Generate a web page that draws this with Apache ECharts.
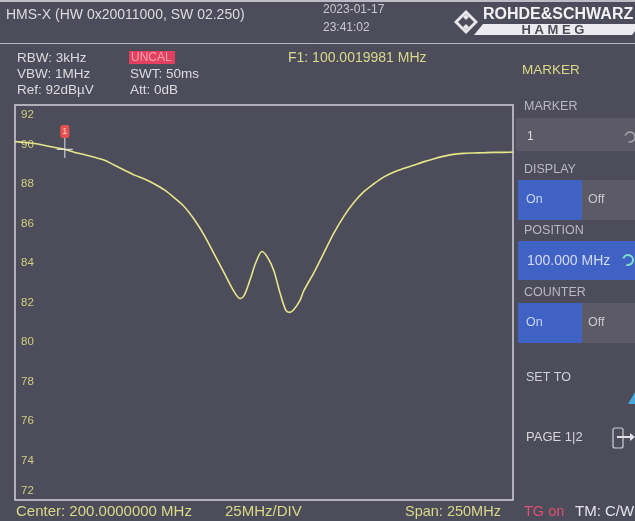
<!DOCTYPE html>
<html>
<head>
<meta charset="utf-8">
<script src="https://cdn.jsdelivr.net/npm/echarts@6/dist/echarts.min.js"></script>
<style>
  html, body { margin: 0; padding: 0; background: #4d4c5a; }
  #chart { width: 635px; height: 521px; }
</style>
</head>
<body>
<div id="chart"></div>
<script>
// Trace: transmission level (dBµV) against frequency (MHz), span 75..325 MHz
const freqMHz = [75, 80, 85, 90, 95, 100, 105, 110, 115, 120, 125, 130, 135, 140, 145,
  150, 155, 160, 165, 170, 175, 180, 185, 188, 190, 193, 196, 199, 202, 205, 208, 211,
  213, 215, 218, 220, 225, 230, 235, 240, 245, 250, 255, 260, 265, 270, 275, 280, 285,
  290, 295, 300, 305, 310, 315, 320, 325];
const levelDbuV = [90.15, 90.1, 90.05, 89.95, 89.85, 89.75, 89.6, 89.48, 89.35, 89.2,
  88.95, 88.7, 88.45, 88.25, 88.0, 87.7, 87.3, 86.85, 86.2, 85.4, 84.45, 83.5, 82.55,
  82.2, 82.35, 83.15, 84.05, 84.58, 84.25, 83.6, 82.5, 81.6, 81.5, 81.65, 82.1, 82.6,
  83.5, 84.5, 85.5, 86.35, 87.05, 87.6, 88.0, 88.35, 88.6, 88.78, 88.95, 89.12, 89.27,
  89.4, 89.5, 89.55, 89.57, 89.58, 89.6, 89.6, 89.62];

// Marker 1 position
const markerFreq = 100;
const markerLevel = 89.75;

// Axis scale
const freqMin = 75, freqMax = 325, freqStep = 25;
const levelMin = 72, levelMax = 92, levelStep = 2;

// Readout texts
const headerTitle = 'HMS-X (HW 0x20011000, SW 02.250)';
const dateText = '2023-01-17';
const timeText = '23:41:02';
const settingsLeft = ['RBW: 3kHz', 'VBW: 1MHz', 'Ref: 92dBµV'];
const settingsMid = ['SWT: 50ms', 'Att: 0dB'];
const uncalText = 'UNCAL';
const markerReadout = 'F1: 100.0019981 MHz';
const footer = { center: 'Center: 200.0000000 MHz', div: '25MHz/DIV', span: 'Span: 250MHz', tg: 'TG on', tm: 'TM: C/W' };

const traceData = freqMHz.map((f, i) => [f, levelDbuV[i]]);

const FONT = '"Liberation Sans", Arial, sans-serif';
const BG = '#4d4c5a';
const txtGrey = '#dcdce0';
const txtYellow = '#d9d98a';
const btnBlue = '#4062c4';
const btnGrey = '#5b5a66';

function text(x, y, s, color, size, weight) {
  return {
    type: 'text', x: x, y: y,
    style: { text: s, fill: color, font: (weight ? weight + ' ' : '') + size + 'px ' + FONT, textVerticalAlign: 'middle' }
  };
}

const graphics = [
  // thin light strip along the top edge
  { type: 'rect', shape: { x: 0, y: 0, width: 635, height: 2 }, style: { fill: '#bdbcc4' } },
  // header separator
  { type: 'line', shape: { x1: 0, y1: 43.5, x2: 635, y2: 43.5 }, style: { stroke: '#b9b8c2', lineWidth: 1 } },
  text(6, 15, headerTitle, txtGrey, 14),
  text(323, 10, dateText, '#c9c8cf', 12),
  text(323, 28, timeText, '#c9c8cf', 12),
  // R&S diamond emblem
  { type: 'polygon', shape: { points: [[466, 10], [478, 22], [466, 34], [454, 22]] }, style: { fill: '#e8e8ec' } },
  { type: 'polygon', shape: { points: [[466, 14], [474, 22], [466, 30], [458, 22]] }, style: { fill: BG } },
  { type: 'polygon', shape: { points: [[463, 17], [466, 14], [469, 17], [466, 20]] }, style: { fill: '#e8e8ec' } },
  { type: 'polygon', shape: { points: [[463, 27], [466, 24], [469, 27], [466, 30]] }, style: { fill: '#e8e8ec' } },
  text(483, 15, 'ROHDE&SCHWARZ', '#f2f2f4', 16, 'bold'),
  { type: 'polygon', shape: { points: [[483, 24], [640, 24], [632, 35], [474, 35]] }, style: { fill: '#ececf0' } },
  { type: 'text', x: 553, y: 30, style: { text: 'H A M E G', fill: BG, font: 'bold 13px ' + FONT, textAlign: 'center', textVerticalAlign: 'middle' } },
  // settings block
  text(17, 58, settingsLeft[0], txtGrey, 13.5),
  text(17, 74, settingsLeft[1], txtGrey, 13.5),
  text(17, 90, settingsLeft[2], txtGrey, 13.5),
  { type: 'rect', shape: { x: 129, y: 51, width: 46, height: 13 }, style: { fill: '#e2405e' } },
  text(131, 57.5, uncalText, '#f7a0b0', 12),
  text(130, 74, settingsMid[0], txtGrey, 13.5),
  text(130, 90, settingsMid[1], txtGrey, 13.5),
  text(288, 58, markerReadout, txtYellow, 14),
  text(522, 70, 'MARKER', txtYellow, 13.5),
  // side menu
  text(524, 107, 'MARKER', '#b9b8c2', 12.5),
  { type: 'rect', shape: { x: 516, y: 118, width: 119, height: 33 }, style: { fill: btnGrey } },
  text(527, 137, '1', '#dcdce0', 12),
  { type: 'arc', shape: { cx: 630, cy: 137, r: 5, startAngle: -Math.PI * 0.9, endAngle: Math.PI * 0.6 }, style: { stroke: '#a8a8b0', lineWidth: 1.5, fill: null } },
  text(524, 170, 'DISPLAY', '#b9b8c2', 12.5),
  { type: 'rect', shape: { x: 518, y: 180, width: 64, height: 40 }, style: { fill: btnBlue } },
  { type: 'rect', shape: { x: 582, y: 180, width: 53, height: 40 }, style: { fill: btnGrey } },
  text(526, 200, 'On', '#c8d4f4', 12.5),
  text(588, 200, 'Off', '#c9c8cf', 12.5),
  text(524, 231, 'POSITION', '#b9b8c2', 12.5),
  { type: 'rect', shape: { x: 518, y: 241, width: 117, height: 39 }, style: { fill: btnBlue } },
  text(527, 261, '100.000 MHz', '#d4dcf6', 14),
  { type: 'arc', shape: { cx: 628, cy: 260, r: 5, startAngle: -Math.PI * 0.9, endAngle: Math.PI * 0.6 }, style: { stroke: '#7fe0c8', lineWidth: 2, fill: null } },
  text(524, 293, 'COUNTER', '#b9b8c2', 12.5),
  { type: 'rect', shape: { x: 518, y: 303, width: 64, height: 40 }, style: { fill: btnBlue } },
  { type: 'rect', shape: { x: 582, y: 303, width: 53, height: 40 }, style: { fill: btnGrey } },
  text(526, 323, 'On', '#c8d4f4', 12.5),
  text(588, 323, 'Off', '#c9c8cf', 12.5),
  text(526, 378, 'SET TO', '#d0d0d6', 12.5),
  { type: 'polygon', shape: { points: [[635, 392], [635, 404], [628, 404]] }, style: { fill: '#4aa8e0' } },
  text(526, 437, 'PAGE 1|2', '#d6d6dc', 13),
  { type: 'rect', shape: { x: 613, y: 428, width: 10, height: 20, r: 2 }, style: { fill: null, stroke: '#d0d0d6', lineWidth: 1.2 } },
  { type: 'line', shape: { x1: 617, y1: 437, x2: 633, y2: 437 }, style: { stroke: '#e0e0e6', lineWidth: 2 } },
  { type: 'polygon', shape: { points: [[630, 433], [635, 437], [630, 441]] }, style: { fill: '#e0e0e6' } },
  // footer
  text(16, 512, footer.center, txtYellow, 15),
  text(225, 512, footer.div, txtYellow, 15),
  text(405, 512, footer.span, txtYellow, 14.5),
  text(524, 512, footer.tg, '#e05070', 14.5),
  text(575, 512, footer.tm, '#e4e4ea', 15)
];

const chart = echarts.init(document.getElementById('chart'), null, { renderer: 'canvas' });
chart.setOption({
  backgroundColor: BG,
  animation: false,
  grid: { left: 15, top: 105, width: 498, height: 395, show: true, borderColor: '#d2d1da', borderWidth: 1.5, backgroundColor: 'transparent' },
  xAxis: {
    type: 'value', min: freqMin, max: freqMax, interval: freqStep,
    axisLine: { show: false }, axisTick: { show: false }, axisLabel: { show: false }, splitLine: { show: false }
  },
  yAxis: {
    type: 'value', min: levelMin, max: levelMax, interval: levelStep,
    axisLine: { show: false }, axisTick: { show: false }, splitLine: { show: false },
    axisLabel: {
      inside: true, margin: 6, color: '#cfcf80', fontSize: 11.5, fontFamily: FONT,
      verticalAlignMaxLabel: 'top', verticalAlignMinLabel: 'bottom',
      formatter: function (v) {
        if (v === levelMax) return '{top|' + v + '}';
        if (v === levelMin) return '{bot|' + v + '}';
        return String(v);
      },
      rich: {
        top: { padding: [4, 0, 0, 0], color: '#cfcf80', fontSize: 11.5, fontFamily: FONT },
        bot: { padding: [0, 0, 3, 0], color: '#cfcf80', fontSize: 11.5, fontFamily: FONT }
      }
    }
  },
  series: [
    {
      type: 'line', data: traceData, smooth: 0.3, showSymbol: false,
      lineStyle: { color: '#e6e68a', width: 1.6 }, z: 3
    },
    {
      type: 'scatter', data: [[markerFreq, markerLevel]], z: 4,
      symbol: 'path://M7.4,0 h1.2 v20 h-1.2 z M0,10.9 h16 v1.2 h-16 z',
      symbolSize: [16, 20], symbolOffset: [0, -1.5], symbolKeepAspect: false,
      itemStyle: { color: '#e8e8ee' },
      markPoint: {
        symbol: 'roundRect', symbolSize: [9, 13], symbolOffset: [0, -18],
        itemStyle: { color: '#e85050' },
        label: { show: true, position: 'inside', formatter: '1', color: '#ffd0d0', fontSize: 9, fontFamily: FONT },
        data: [{ coord: [markerFreq, markerLevel] }]
      }
    }
  ],
  graphic: graphics
});
</script>
</body>
</html>
